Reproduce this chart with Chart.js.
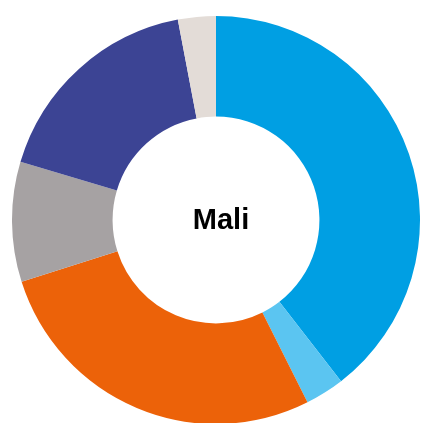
<!DOCTYPE html>
<html>
<head>
<meta charset="utf-8">
<script src="https://cdn.jsdelivr.net/npm/chart.js@4"></script>
<style>
html,body{margin:0;padding:0;background:#fff;overflow:hidden;width:421px;height:423px;}
#wrap{position:absolute;left:12px;top:16px;width:408px;height:408px;}
</style>
</head>
<body>
<div id="wrap"><canvas id="c"></canvas></div>
<script>
const categories = ["Segment 1", "Segment 2", "Segment 3", "Segment 4", "Segment 5", "Segment 6"];
const values = [39.5, 3.1, 27.5, 9.5, 17.4, 3.0];
const colors = ["#009fe3", "#5bc5f1", "#ec6209", "#a6a2a3", "#3c4494", "#e3dcd7"];
const centerLabel = "Mali";

const centerText = {
  id: 'centerText',
  afterDraw(chart) {
    const ctx = chart.ctx;
    const meta = chart.getDatasetMeta(0).data[0];
    ctx.save();
    ctx.font = 'bold 29px "Liberation Sans", Arial, sans-serif';
    ctx.fillStyle = '#000';
    ctx.textAlign = 'center';
    ctx.textBaseline = 'alphabetic';
    ctx.fillText(centerLabel, meta.x + 5, meta.y + 8.5);
    ctx.restore();
  }
};

new Chart(document.getElementById('c'), {
  type: 'doughnut',
  data: {
    labels: categories,
    datasets: [{
      data: values,
      backgroundColor: colors,
      borderWidth: 0
    }]
  },
  options: {
    responsive: true,
    maintainAspectRatio: false,
    animation: false,
    cutout: '50.7%',
    layout: { padding: 0 },
    plugins: { legend: { display: false }, tooltip: { enabled: false } }
  },
  plugins: [centerText]
});
</script>
</body>
</html>
